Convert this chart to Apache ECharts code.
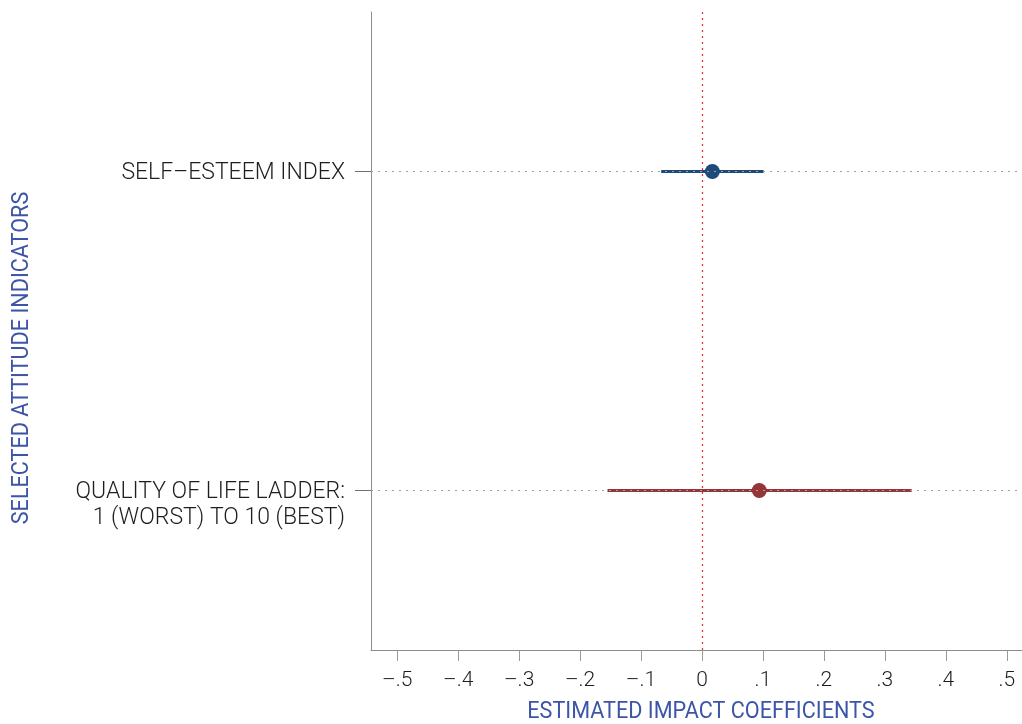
<!DOCTYPE html>
<html>
<head>
<meta charset="utf-8">
<script src="https://cdn.jsdelivr.net/npm/echarts@6/dist/echarts.min.js"></script>
<style>html,body{margin:0;padding:0;background:#fff}#c{width:1022px;height:724px}</style>
</head>
<body>
<div id="c"></div>
<script>
const categories = ['QUALITY OF LIFE LADDER:\n1 (WORST) TO 10 (BEST)', 'SELF\u2013ESTEEM INDEX'];
const estimates = [0.094, 0.017];
const lower = [-0.155, -0.067];
const upper = [0.344, 0.101];
const seriesColors = ['#963538', '#1d4a78'];
const tickValues = [-0.5, -0.4, -0.3, -0.2, -0.1, 0, 0.1, 0.2, 0.3, 0.4, 0.5];
const tickLabels = ['\u2013.5', '\u2013.4', '\u2013.3', '\u2013.2', '\u2013.1', '0', '.1', '.2', '.3', '.4', '.5'];
const xTitle = 'ESTIMATED IMPACT COEFFICIENTS';
const yTitle = 'SELECTED ATTITUDE INDICATORS';

const chart = echarts.init(document.getElementById('c'), null, {renderer: 'canvas'});
const series = [];
categories.forEach((cat, i) => {
  series.push({
    type: 'line', data: [[lower[i], cat], [upper[i], cat]], symbol: 'none',
    lineStyle: {color: seriesColors[i], width: 3}, z: 3, silent: true
  });
  series.push({
    type: 'scatter', data: [[estimates[i], cat]], symbolSize: 15,
    itemStyle: {color: seriesColors[i], opacity: 1}, z: 4, silent: true
  });
});
series.push({
  type: 'line', data: [], silent: true,
  markLine: {
    silent: true, symbol: 'none', label: {show: false},
    data: categories.map(c => ({yAxis: c, lineStyle: {color: '#a0a0a0', type: [2, 5], width: 1}}))
      .concat([{xAxis: 0, lineStyle: {color: '#e0393e', type: [2, 4], width: 1.3}}])
  }
});

chart.setOption({
  animation: false,
  grid: {left: 371, right: 0, top: 12, bottom: 74},
  xAxis: {
    type: 'value', min: -0.543, max: 0.525,
    axisLine: {show: true, onZero: false, lineStyle: {color: '#8c8c8c', width: 1}},
    axisTick: {show: true, customValues: tickValues, length: 11, lineStyle: {color: '#9a9a9a'}},
    axisLabel: {
      customValues: tickValues, margin: 20, color: '#1e1e1e', fontSize: 21, fontFamily: 'Roboto', fontWeight: 300,
      formatter: v => { const k = tickValues.findIndex(t => Math.abs(t - v) < 1e-9); return k >= 0 ? tickLabels[k] : ''; }
    },
    splitLine: {show: false}
  },
  yAxis: {
    type: 'category', data: categories, boundaryGap: true,
    axisLine: {show: true, onZero: false, lineStyle: {color: '#8c8c8c', width: 1}},
    axisTick: {show: true, alignWithLabel: true, length: 16, lineStyle: {color: '#707070'}},
    axisLabel: {margin: 26, color: '#1e1e1e', fontSize: 23, fontFamily: 'Roboto', fontWeight: 300, lineHeight: 26, align: 'right', verticalAlign: 'top', padding: [-11, 0, 0, 0]},
    splitLine: {show: false}
  },
  graphic: [
    {type: 'text', x: 701, y: 712, scaleX: 0.94, style: {text: xTitle, fill: '#3d55a8', font: '23px Roboto', textAlign: 'center', textVerticalAlign: 'middle'}},
    {type: 'text', x: 22, y: 358, rotation: Math.PI / 2, scaleX: 0.94, style: {text: yTitle, fill: '#3d55a8', font: '23px Roboto', textAlign: 'center', textVerticalAlign: 'middle'}}
  ],
  series: series
});
</script>
</body>
</html>
